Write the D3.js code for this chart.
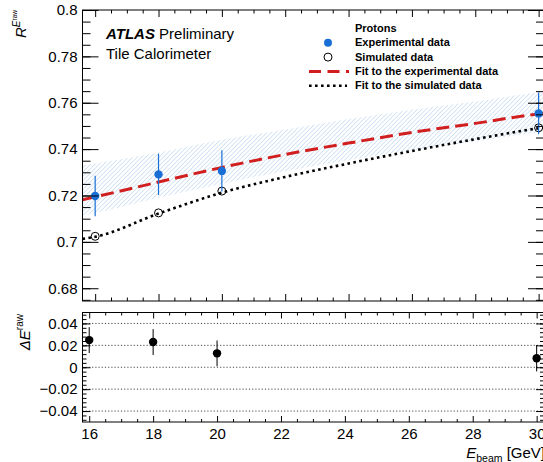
<!DOCTYPE html>
<meta charset="utf-8">
<style>
body { margin: 0; background: #fff; }
text { font-family: "Liberation Sans", Arial, sans-serif; }
.tick text { font-size: 15px; fill: #000; }
.legendLabel { font-size: 11px; font-weight: bold; }
</style>
<body>
<script src="https://d3js.org/d3.v7.min.js"></script>
<script>

// measured points (beam energy in GeV)
const energies = [16, 18, 20, 30];
const expValues = [0.7198, 0.7291, 0.7306, 0.7554];
const expErrors = [0.0087, 0.0089, 0.0089, 0.0090];
const simValues = [0.7024, 0.7125, 0.7219, 0.7492];

// fit curves and the uncertainty band
const fitEnergies = [15.6, 16, 18, 20, 22, 24, 26, 28, 30, 30.2];
const expFit   = [0.7182, 0.7194, 0.7258, 0.7321, 0.7377, 0.7426, 0.7472, 0.7511, 0.7552, 0.7555];
const simFit   = [0.7013, 0.7022, 0.7122, 0.7212, 0.7280, 0.7338, 0.7392, 0.7443, 0.7490, 0.7494];
const bandLow  = [0.7115, 0.7125, 0.7190, 0.7250, 0.7305, 0.7352, 0.7395, 0.7433, 0.7472, 0.7475];
const bandHigh = [0.7330, 0.7338, 0.7385, 0.7440, 0.7485, 0.7530, 0.7570, 0.7605, 0.7645, 0.7648];

// lower panel: data - simulation
const diffValues = [0.0248, 0.0230, 0.0127, 0.0082];
const diffErrors = [0.0118, 0.0118, 0.0118, 0.0120];

const legendLabels = ["Experimental data", "Simulated data", "Fit to the experimental data", "Fit to the simulated data"];

let width = 543,
    height = 462,
    left = 82.5,
    right = 544,
    top1 = 10, bottom1 = 301,
    top2 = 312.5, bottom2 = 422;

let blue = "#1a6fd6",
    red = "#d11f1f";

let svg = d3.select("body").append("svg")
            .attr("width", width)
            .attr("height", height);

let x1 = d3.scaleLinear().domain([15.6, 30.17]).range([left, right]),
    y1 = d3.scaleLinear().domain([0.6745, 0.8]).range([bottom1, top1]),
    x2 = d3.scaleLinear().domain([15.79, 30.23]).range([left, right]),
    y2 = d3.scaleLinear().domain([-0.05, 0.05]).range([bottom2, top2]);

let defs = svg.append("defs");
defs.append("clipPath").attr("id", "clipTop")
    .append("rect").attr("x", left).attr("y", top1)
    .attr("width", right - left).attr("height", bottom1 - top1);

defs.append("pattern")
    .attr("id", "hatch")
    .attr("patternUnits", "userSpaceOnUse")
    .attr("width", 3.1).attr("height", 3.1)
    .attr("patternTransform", "rotate(45)")
  .append("line")
    .attr("x1", 0).attr("y1", 0).attr("x2", 0).attr("y2", 3.1)
    .attr("stroke", "#a3c6ea").attr("stroke-width", 0.9);

// ---------- axes (ROOT style: ticks inside on all four sides)
function xTicks(g, scale, y0, y1, major, minor, labels) {
    let majors = d3.range(16, 30.01, 2),
        minors = d3.range(16, 30.01, 0.5).filter(v => v % 2 != 0);
    g.append("g").attr("transform", `translate(0,${y0})`)
        .call(d3.axisBottom(scale).tickValues(majors).tickSize(-major).tickPadding(labels ? 6 : 0)
              .tickFormat(labels ? d3.format("d") : ""));
    g.append("g").attr("transform", `translate(0,${y0})`)
        .call(d3.axisBottom(scale).tickValues(minors).tickSize(-minor).tickFormat(""));
    g.append("g").attr("transform", `translate(0,${y1})`)
        .call(d3.axisTop(scale).tickValues(majors).tickSize(-major).tickFormat(""));
    g.append("g").attr("transform", `translate(0,${y1})`)
        .call(d3.axisTop(scale).tickValues(minors).tickSize(-minor).tickFormat(""));
}

function yTicks(g, scale, majors, minors, major, minor) {
    g.append("g").attr("transform", `translate(${left},0)`)
        .call(d3.axisLeft(scale).tickValues(majors).tickSize(-major).tickPadding(5)
              .tickFormat(d => d3.format("~g")(+d.toFixed(4))));
    g.append("g").attr("transform", `translate(${left},0)`)
        .call(d3.axisLeft(scale).tickValues(minors).tickSize(-minor).tickFormat(""));
    g.append("g").attr("transform", `translate(${right},0)`)
        .call(d3.axisRight(scale).tickValues(majors).tickSize(-major).tickFormat(""));
    g.append("g").attr("transform", `translate(${right},0)`)
        .call(d3.axisRight(scale).tickValues(minors).tickSize(-minor).tickFormat(""));
}

// ---------- upper panel
let topG = svg.append("g");
let plotG = topG.append("g").attr("clip-path", "url(#clipTop)");

let band = d3.area()
    .x((d, i) => x1(fitEnergies[i]))
    .y0((d, i) => y1(bandLow[i]))
    .y1((d, i) => y1(bandHigh[i]))
    .curve(d3.curveMonotoneX);

plotG.append("path")
    .datum(fitEnergies)
    .attr("d", band)
    .attr("fill", "url(#hatch)");

let fitLine = vals => d3.line()
    .x((d, i) => x1(fitEnergies[i]))
    .y((d, i) => y1(vals[i]))
    .curve(d3.curveMonotoneX)(fitEnergies);

plotG.append("path")
    .attr("d", fitLine(simFit))
    .attr("fill", "none")
    .attr("stroke", "#000")
    .attr("stroke-width", 2.6)
    .attr("stroke-dasharray", "2.6,3.4");

plotG.append("path")
    .attr("d", fitLine(expFit))
    .attr("fill", "none")
    .attr("stroke", red)
    .attr("stroke-width", 3)
    .attr("stroke-dasharray", "13,6");

// simulated points
plotG.selectAll(".sim")
    .data(energies)
    .join("circle")
        .attr("class", "sim")
        .attr("cx", d => x1(d))
        .attr("cy", (d, i) => y1(simValues[i]))
        .attr("r", 4)
        .attr("fill", "none")
        .attr("stroke", "#000")
        .attr("stroke-width", 1);

// experimental points
plotG.selectAll(".expErr")
    .data(energies)
    .join("line")
        .attr("class", "expErr")
        .attr("x1", d => x1(d)).attr("x2", d => x1(d))
        .attr("y1", (d, i) => y1(expValues[i] - expErrors[i]))
        .attr("y2", (d, i) => y1(expValues[i] + expErrors[i]))
        .attr("stroke", blue)
        .attr("stroke-width", 1.2);

plotG.selectAll(".exp")
    .data(energies)
    .join("circle")
        .attr("class", "exp")
        .attr("cx", d => x1(d))
        .attr("cy", (d, i) => y1(expValues[i]))
        .attr("r", 4.2)
        .attr("fill", blue);

topG.append("rect")
    .attr("x", left).attr("y", top1)
    .attr("width", right - left).attr("height", bottom1 - top1)
    .attr("fill", "none").attr("stroke", "#000");

let ax1 = topG.append("g");
xTicks(ax1, x1, bottom1, top1, 7, 3.5, false);
yTicks(ax1, y1, d3.range(0.68, 0.8001, 0.02), d3.range(0.675, 0.8001, 0.005), 16, 8);

// ---------- lower panel
let botG = svg.append("g");

botG.append("g")
    .selectAll("line")
    .data([-0.04, -0.02, 0, 0.02, 0.04])
    .join("line")
        .attr("x1", left).attr("x2", right)
        .attr("y1", d => y2(d)).attr("y2", d => y2(d))
        .attr("stroke", "#333")
        .attr("stroke-width", 0.9)
        .attr("stroke-dasharray", "1.2,2");

botG.selectAll(".diffErr")
    .data(energies)
    .join("line")
        .attr("class", "diffErr")
        .attr("x1", d => x2(d)).attr("x2", d => x2(d))
        .attr("y1", (d, i) => y2(diffValues[i] - diffErrors[i]))
        .attr("y2", (d, i) => y2(diffValues[i] + diffErrors[i]))
        .attr("stroke", "#000")
        .attr("stroke-width", 1);

botG.selectAll(".diff")
    .data(energies)
    .join("circle")
        .attr("class", "diff")
        .attr("cx", d => x2(d))
        .attr("cy", (d, i) => y2(diffValues[i]))
        .attr("r", 4.2)
        .attr("fill", "#000");

botG.append("rect")
    .attr("x", left).attr("y", top2)
    .attr("width", right - left).attr("height", bottom2 - top2)
    .attr("fill", "none").attr("stroke", "#000");

let ax2 = botG.append("g");
xTicks(ax2, x2, bottom2, top2, 6, 3, true);
yTicks(ax2, y2, d3.range(-0.04, 0.0401, 0.02), d3.range(-0.048, 0.0481, 0.004), 8, 4);

svg.selectAll(".domain").remove();
svg.selectAll(".tick line").attr("stroke", "#000");

// ---------- titles
let yl1 = svg.append("text")
    .attr("transform", "translate(26,10) rotate(-90)")
    .attr("text-anchor", "end");
yl1.append("tspan").attr("font-size", 15).attr("font-style", "italic").text("R");
yl1.append("tspan").attr("font-size", 10).attr("font-style", "italic").attr("dy", -6).text("E");
yl1.append("tspan").attr("font-size", 6.5).attr("dy", -3.5).text("raw");

let yl2 = svg.append("text")
    .attr("transform", "translate(30,314) rotate(-90)")
    .attr("text-anchor", "end");
yl2.append("tspan").attr("font-size", 15).attr("font-style", "italic").text("ΔE");
yl2.append("tspan").attr("font-size", 10).attr("dy", -7).text("raw");

let xl = svg.append("text")
    .attr("x", 545).attr("y", 458)
    .attr("text-anchor", "end");
xl.append("tspan").attr("font-size", 15).attr("font-style", "italic").text("E");
xl.append("tspan").attr("font-size", 10.5).attr("dy", 4).text("beam");
xl.append("tspan").attr("font-size", 15).attr("dy", -4).text(" [GeV]");

let atlas = svg.append("text").attr("x", 106).attr("y", 38.5).attr("font-size", 15);
atlas.append("tspan").attr("font-weight", "bold").attr("font-style", "italic").text("ATLAS");
atlas.append("tspan").text(" Preliminary");
svg.append("text").attr("x", 106).attr("y", 58.5).attr("font-size", 15).text("Tile Calorimeter");

// ---------- legend
let legend = svg.append("g");
legend.append("text").attr("class", "legendLabel").attr("x", 355).attr("y", 32).text("Protons");

let rows = legend.selectAll(".row")
    .data(legendLabels)
    .join("g")
        .attr("class", "row")
        .attr("transform", (d, i) => `translate(0,${46.3 + i * 14.3})`);

rows.append("text")
    .attr("class", "legendLabel")
    .attr("x", 355)
    .text(d => d);

rows.filter((d, i) => i == 0).append("circle")
    .attr("cx", 328).attr("cy", -3.5).attr("r", 4).attr("fill", blue);
rows.filter((d, i) => i == 1).append("circle")
    .attr("cx", 328).attr("cy", -3.5).attr("r", 4)
    .attr("fill", "none").attr("stroke", "#000");
rows.filter((d, i) => i == 2).append("line")
    .attr("x1", 309).attr("x2", 349).attr("y1", -3.5).attr("y2", -3.5)
    .attr("stroke", red).attr("stroke-width", 3).attr("stroke-dasharray", "12,6.5");
rows.filter((d, i) => i == 3).append("line")
    .attr("x1", 309).attr("x2", 347).attr("y1", -3.5).attr("y2", -3.5)
    .attr("stroke", "#000").attr("stroke-width", 2.6).attr("stroke-dasharray", "2.6,3.4");

</script>
